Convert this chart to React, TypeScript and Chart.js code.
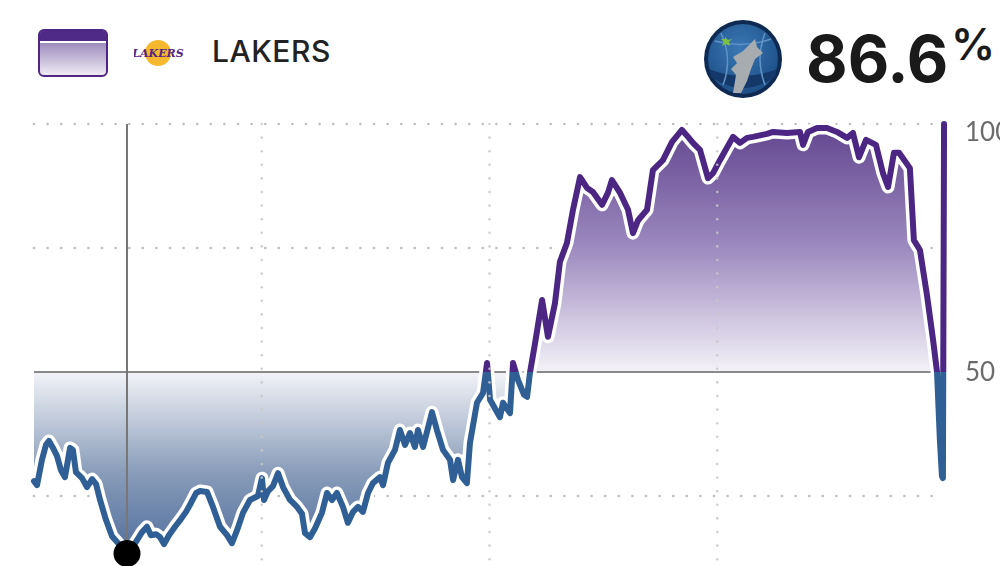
import React, { useEffect, useRef } from 'react';
import { Chart, registerables } from 'chart.js';

Chart.register(...registerables);

// ---- data (Lakers win probability, %, by game minute) ----
const gameMinutes = [
  0.0, 0.16, 0.42, 0.63, 0.79, 1.0, 1.21, 1.42, 1.63, 1.9, 2.05, 2.21, 2.53, 2.79, 3.06, 3.27, 3.48, 3.79, 4.11, 4.43,
  4.64, 4.9, 5.16, 5.43, 5.69, 5.95, 6.16, 6.43, 6.64, 6.85, 7.11, 7.43, 7.75, 8.01, 8.27, 8.54, 8.75, 9.12, 9.43, 9.8,
  10.17, 10.43, 10.7, 11.01, 11.38, 11.8, 12.01, 12.12, 12.33, 12.59, 12.86, 13.12, 13.49, 13.86, 14.12, 14.28, 14.54,
  14.81, 15.17, 15.44, 15.7, 15.96, 16.28, 16.54, 16.81, 17.07, 17.33, 17.6, 17.86, 18.23, 18.39, 18.65, 19.02, 19.28,
  19.55, 19.81, 20.07, 20.23, 20.5, 20.97, 21.23, 21.55, 21.92, 22.08, 22.34, 22.55, 22.81, 22.97, 23.34, 23.66, 23.87,
  24.03, 24.34, 24.55, 24.71, 25.08, 25.24, 25.5, 25.82, 25.98, 26.13, 26.4, 26.77, 27.08, 27.45, 27.71, 28.08, 28.4,
  28.77, 29.14, 29.45, 29.93, 30.24, 30.45, 30.88, 31.3, 31.56, 31.83, 32.3, 32.61, 33.14, 33.62, 34.14, 34.46, 34.72,
  35.09, 35.51, 35.78, 36.14, 36.83, 37.2, 37.57, 37.88, 38.62, 38.94, 39.68, 40.36, 40.52, 40.78, 41.26, 41.78, 42.31,
  42.84, 43.15, 43.47, 43.84, 44.36, 44.73, 45.0, 45.31, 45.58, 46.15, 46.36, 46.68, 47.05, 47.37, 47.58, 47.73, 47.84,
  47.89, 47.95,
];
const lakersWinProb = [
  28.0, 27.2, 32.3, 35.3, 36.1, 34.7, 33.1, 30.2, 28.8, 34.7, 34.3, 29.8, 28.6, 26.8, 28.4, 27.4, 24.2, 20.2, 16.9, 15.5,
  14.7, 13.4, 14.5, 16.1, 17.7, 18.8, 17.1, 17.3, 16.7, 15.3, 17.1, 18.8, 20.4, 21.8, 23.6, 25.6, 26.0, 25.8, 22.8, 18.8,
  17.1, 15.5, 18.1, 21.6, 24.2, 25.0, 28.6, 24.2, 26.0, 27.0, 29.6, 26.8, 24.2, 22.8, 21.4, 17.5, 16.7,
  18.5, 21.6, 25.6, 24.2, 25.6, 22.8, 19.6, 21.8, 22.8, 21.8, 25.6, 27.6, 28.8, 27.2, 31.7, 34.3, 38.3,
  35.3, 37.7, 34.9, 38.3, 34.9, 41.9, 38.3, 34.3, 32.3, 28.2, 32.3, 28.8, 27.6, 35.7, 43.8, 45.8, 51.8,
  44.4, 42.3, 40.9, 43.8, 41.7, 51.8, 48.4, 45.4, 45.0, 49.8, 55.8, 64.5, 57.1, 63.9, 72.2, 76.0, 82.7,
  89.3, 87.1, 86.3, 83.7, 86.1, 88.7, 86.1, 82.7, 78.0, 80.6, 82.7, 90.7, 92.7, 96.4, 98.8, 97.4, 96.2,
  94.8, 89.1, 90.1, 92.7, 97.4, 96.2, 97.2, 97.4, 98.0, 98.4, 98.2, 98.4, 95.8, 98.4, 99.2, 99.2, 98.4,
  97.2, 98.2, 93.3, 96.8, 95.8, 90.1, 87.3, 94.2, 94.2, 91.1, 76.6, 74.6, 65.5, 56.5, 50.0, 36.3, 29.0,
  28.6, 100,
];
const quarterMarks = [12, 24, 36];
const dottedLevels = [100, 75, 25];
const evenLevel = 50;
const yTickValues = [100, 50];
const yTickLabels = ['100', '50'];
const hoverMinute = 4.9;
const hoverLakersProb = 13.4;
const teamName = 'LAKERS';
const opponentPct = '86.6';

const PURPLE = '#4b2683';
const BLUE = '#2f5f95';

const gridPlugin = {
  id: 'wpGrid',
  beforeDatasetsDraw(chart: any) {
    const { ctx, chartArea, scales } = chart;
    const y = scales.y;
    ctx.save();
    ctx.fillStyle = '#bdbdbd';
    for (const v of dottedLevels) {
      const py = y.getPixelForValue(v);
      for (let px = chartArea.left; px <= chartArea.right - 4; px += 13.6) {
        ctx.beginPath();
        ctx.arc(px, py, 1.3, 0, Math.PI * 2);
        ctx.fill();
      }
    }
    ctx.restore();
  },
  afterDatasetDraw(chart: any, args: any) {
    if (args.index !== 0) return;
    const { ctx, chartArea, scales } = chart;
    const { x, y } = scales;
    ctx.save();
    const py = y.getPixelForValue(evenLevel);
    ctx.strokeStyle = '#8a8a8a';
    ctx.lineWidth = 2;
    ctx.beginPath();
    ctx.moveTo(chartArea.left, py);
    ctx.lineTo(chartArea.right, py);
    ctx.stroke();
    const hx = x.getPixelForValue(hoverMinute);
    ctx.strokeStyle = '#777';
    ctx.beginPath();
    ctx.moveTo(hx, chartArea.top);
    ctx.lineTo(hx, y.getPixelForValue(hoverLakersProb));
    ctx.stroke();
    ctx.restore();
  },
  afterDatasetsDraw(chart: any) {
    const { ctx, chartArea, scales } = chart;
    const { x, y } = scales;
    ctx.save();
    ctx.fillStyle = 'rgba(200,200,200,0.85)';
    for (const q of quarterMarks) {
      const px = x.getPixelForValue(q);
      for (let py = chartArea.top; py <= chartArea.bottom; py += 13.6) {
        ctx.beginPath();
        ctx.arc(px, py, 1.3, 0, Math.PI * 2);
        ctx.fill();
      }
    }
    ctx.fillStyle = '#6b6b6b';
    ctx.font = '26px Lato';
    ctx.textBaseline = 'middle';
    ctx.textAlign = 'left';
    yTickValues.forEach((v, i) => {
      const py = y.getPixelForValue(v) + (v === 100 ? 9 : 1);
      ctx.fillText(yTickLabels[i], chartArea.right + 20, py);
    });
    ctx.restore();
  },
};

function WolvesLogo() {
  return (
    <svg width="80" height="80" viewBox="0 0 80 80" style={{ position: 'absolute', left: 703, top: 19 }}>
      <defs>
        <radialGradient id="wg" cx="45%" cy="35%" r="65%">
          <stop offset="0%" stopColor="#3a78b5" />
          <stop offset="100%" stopColor="#1d4f86" />
        </radialGradient>
      </defs>
      <circle cx="40" cy="40" r="39" fill="#0e2a52" />
      <circle cx="40" cy="40" r="35" fill="url(#wg)" />
      <path d="M6 50 Q40 64 74 50 L72 58 Q40 80 8 58 Z" fill="#14386a" />
      <path d="M12 22 Q40 30 68 20" stroke="#5f93c6" strokeWidth="1.5" fill="none" />
      <path d="M18 14 Q30 40 20 66" stroke="#5f93c6" strokeWidth="1.5" fill="none" />
      <path d="M62 14 Q52 40 62 66" stroke="#5f93c6" strokeWidth="1.5" fill="none" />
      <path d="M30 74 L33 56 L28 50 L34 44 L30 38 L40 32 L52 20 L54 28 L60 34 L52 40 L48 50 L44 62 L38 74 Z" fill="#a7acb0" />
      <polygon points="22,18 25,21 29,20 26,23 27,27 23,25 19,27 21,23 18,20 22,20" fill="#7ac143" />
    </svg>
  );
}

function LakersLogo() {
  return (
    <svg width="50" height="30" viewBox="0 0 50 30" style={{ position: 'absolute', left: 134, top: 38 }}>
      <circle cx="24" cy="15" r="13" fill="#f6b82f" />
      <text x="24" y="19" textAnchor="middle" fontSize="11" fontStyle="italic" fontWeight="700" fill="#552583" fontFamily="DejaVu Serif">
        LAKERS
      </text>
    </svg>
  );
}

export default function App() {
  const canvasRef = useRef<HTMLCanvasElement | null>(null);

  useEffect(() => {
    if (!canvasRef.current) return;
    const points = gameMinutes.map((m, i) => ({ x: m, y: lakersWinProb[i] }));
    const chart = new Chart(canvasRef.current, {
      type: 'line',
      data: {
        datasets: [
          {
            data: points,
            borderWidth: 0,
            pointRadius: 0,
            fill: { target: { value: evenLevel } },
            order: 3,
            clip: false,
          } as any,
          {
            data: points,
            borderColor: '#ffffff',
            borderWidth: 13,
            pointRadius: 0,
            fill: false,
            borderJoinStyle: 'round',
            borderCapStyle: 'round',
            order: 2,
            clip: false,
          },
          {
            data: points,
            borderColor: PURPLE,
            borderWidth: 6,
            pointRadius: 0,
            fill: false,
            borderJoinStyle: 'round',
            borderCapStyle: 'round',
            order: 1,
            clip: false,
          },
          {
            data: [{ x: hoverMinute, y: hoverLakersProb }],
            showLine: false,
            pointRadius: 13.5,
            pointBackgroundColor: '#000',
            pointBorderWidth: 0,
            order: 0,
            clip: false,
          },
        ],
      },
      options: {
        animation: false,
        responsive: false,
        events: [],
        layout: { padding: { left: 34, right: 55, top: 124, bottom: 20 } },
        plugins: { legend: { display: false }, tooltip: { enabled: false } },
        scales: {
          x: { type: 'linear', min: 0, max: 48, display: false },
          y: { type: 'linear', min: 0, max: 100, display: false },
        },
      },
      plugins: [gridPlugin],
    });

    const y = chart.scales.y;
    const ctx = chart.ctx;
    const y100 = y.getPixelForValue(100);
    const y50 = y.getPixelForValue(50);
    const y0 = y.getPixelForValue(0);
    const above = ctx.createLinearGradient(0, y100, 0, y50);
    above.addColorStop(0, '#62458f');
    above.addColorStop(0.5, '#9d8abf');
    above.addColorStop(1, '#f4f2f8');
    const below = ctx.createLinearGradient(0, y50, 0, y0);
    below.addColorStop(0, '#f2f3f7');
    below.addColorStop(0.4, '#8a9dba');
    below.addColorStop(0.7, '#5673a0');
    below.addColorStop(1, '#3a5a8a');
    const lineGrad = ctx.createLinearGradient(0, y100, 0, y0);
    const t = (y50 - y100) / (y0 - y100);
    lineGrad.addColorStop(0, PURPLE);
    lineGrad.addColorStop(t, PURPLE);
    lineGrad.addColorStop(t, BLUE);
    lineGrad.addColorStop(1, BLUE);
    (chart.data.datasets[0] as any).fill = { target: { value: evenLevel }, above, below };
    (chart.data.datasets[2] as any).borderColor = lineGrad;
    chart.update();

    return () => chart.destroy();
  }, []);

  return (
    <div
      style={{
        position: 'fixed',
        left: 0,
        top: 0,
        width: 1000,
        height: 566,
        overflow: 'hidden',
        background: '#fff',
        fontFamily: 'Inter, sans-serif',
      }}
    >
      <div
        style={{
          position: 'absolute',
          left: 38,
          top: 29,
          width: 66,
          height: 44,
          border: '2px solid #4f2683',
          borderRadius: 6,
          overflow: 'hidden',
          background: 'linear-gradient(#7d68a8, #efebf4)',
        }}
      >
        <div style={{ height: 10, background: '#4f2a86', borderBottom: '2px solid #fff' }} />
      </div>
      <LakersLogo />
      <div
        style={{
          position: 'absolute',
          left: 212,
          top: 36,
          fontSize: 30,
          lineHeight: '30px',
          fontWeight: 500,
          color: '#222',
          letterSpacing: 0.5,
        }}
      >
        {teamName}
      </div>
      <WolvesLogo />
      <div
        style={{
          position: 'absolute',
          left: 806,
          top: 27,
          fontSize: 64,
          lineHeight: '64px',
          fontWeight: 700,
          color: '#1a1a1a',
          whiteSpace: 'nowrap',
        }}
      >
        {opponentPct}
      </div>
      <div
        style={{
          position: 'absolute',
          left: 951,
          top: 22,
          fontSize: 44,
          lineHeight: '44px',
          fontWeight: 600,
          color: '#1a1a1a',
        }}
      >
        %
      </div>
      <canvas ref={canvasRef} width={1000} height={640} style={{ position: 'absolute', left: 0, top: 0, width: 1000, height: 640 }} />
    </div>
  );
}
